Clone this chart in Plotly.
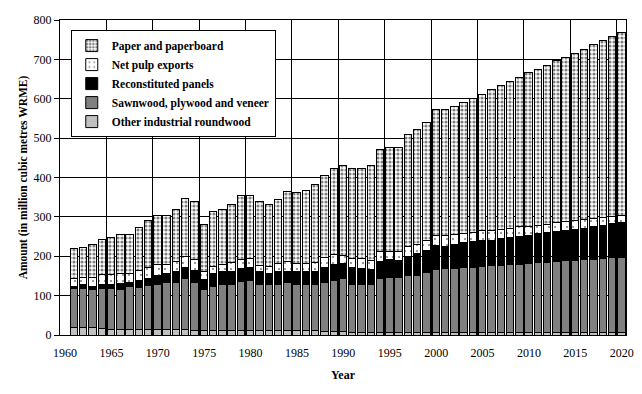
import plotly.graph_objects as go

years = list(range(1961, 2021))
year_tick_labels = ["1960", "1965", "1970", "1975", "1980", "1985", "1990",
                    "1995", "2000", "2005", "2010", "2015", "2020"]

other_industrial = [19.5, 19.5, 19.5, 17, 14.5, 14.5, 14.5, 14.5, 14.5, 14.5,
                    14.5, 14.5, 14.5, 11, 11, 11, 11, 11, 11, 11,
                    11, 11, 11, 11, 11, 11, 11, 8.5, 8.5, 8.5,
                    7, 7, 7, 7, 7, 7, 7, 7, 7, 7,
                    7, 7, 7, 7, 7, 7, 7, 7, 7, 7,
                    7, 7, 7, 7, 7, 7, 7, 7, 7, 7]
sawnwood = [98.1, 98.1, 96.5, 101.4, 103.9, 101.5, 108.2, 106.5, 110.5, 114.5,
            120, 120, 128.5, 121.8, 105, 111.7, 116, 116, 124, 127,
            116, 116, 116, 121.8, 116, 116, 116, 124.3, 131.1, 134.5,
            122.4, 122.4, 122.4, 136, 139.4, 139.4, 145, 145, 151, 159.7,
            162.2, 162.2, 164.7, 164.7, 166.4, 169, 169, 172.4, 172.4, 174.9,
            177.4, 177.4, 179.1, 181.7, 181.7, 185, 185, 187.6, 190.1, 190.1]
reconstituted = [6.4, 9.4, 8, 10.6, 10.6, 15, 10.3, 18.6, 19, 23,
                 22, 27.9, 28.7, 32.2, 25, 32.3, 34, 34, 34, 34,
                 33.7, 29.5, 33.7, 29.6, 33.7, 33.7, 35.4, 38.2, 39.8, 39.7,
                 41.6, 39.8, 38.1, 43, 46.6, 44, 48.5, 55, 56, 61.7,
                 56.8, 61.8, 62.6, 65.2, 66, 65.1, 69.3, 68.5, 71.9, 71.9,
                 73.6, 76.2, 76.2, 77.8, 80.3, 78.7, 83, 82.9, 86.3, 87.9]
net_pulp = [20, 19, 22, 25, 25, 24, 22, 23.4, 28, 26.5,
            22, 23.6, 28.8, 27, 21, 18, 19, 23, 23, 22.6,
            17, 16.9, 21.2, 23.6, 21.2, 21.2, 21.2, 26, 26.2, 20.3,
            23.6, 25.4, 22.9, 25.5, 20, 22.6, 23.5, 24, 25.4, 25.4,
            27.8, 24.5, 23.7, 23.7, 25.4, 25.4, 23.7, 22.8, 23.7, 22.8,
            21.2, 21.1, 22.7, 21.1, 22.9, 23.7, 21.1, 21.1, 18.6, 19.6]
paper = [76, 76.5, 84, 89, 94, 100.5, 100.5, 110, 118, 125.5,
         125.5, 133, 146.5, 147, 119, 141, 139, 148.5, 163, 160.4,
         160.3, 158.6, 162.1, 178, 179.1, 186.1, 198.4, 208, 217.4, 228,
         229.4, 229.4, 240.6, 258.5, 263.5, 263.5, 285.5, 291, 301.2, 319,
         319, 324.1, 333.4, 340.1, 346.9, 357.9, 365.5, 374, 379.8, 389.2,
         395.9, 403.6, 411.3, 418, 423.8, 431.5, 440.8, 450.1, 456.9, 463.6]

series = [
    ("Other industrial roundwood", other_industrial, dict(color="#c0c0c0")),
    ("Sawnwood, plywood and veneer", sawnwood, dict(color="#808080")),
    ("Reconstituted panels", reconstituted, dict(color="#000000")),
    ("Net pulp exports", net_pulp,
     dict(color="#ffffff", pattern=dict(shape=".", fgcolor="#000000", bgcolor="#ffffff",
                                         size=6, solidity=0.1, fillmode="overlay"))),
    ("Paper and paperboard", paper,
     dict(color="#ffffff", pattern=dict(shape=".", fgcolor="#000000", bgcolor="#ffffff",
                                         size=4, solidity=0.5, fillmode="overlay"))),
]

font_family = "Liberation Serif"

fig = go.Figure()
for name, vals, mk in series:
    marker = dict(mk)
    marker["line"] = dict(color="#000000", width=1)
    fig.add_trace(go.Bar(x=years, y=vals, name=name, marker=marker))

# gridlines sit on category boundaries every 5 years; labels are shifted to the category centres
tick_positions = [int(lbl) - 0.5 for lbl in year_tick_labels]

# the page body has an 8px margin, so the figure is 8px smaller than the window
fig.update_layout(
    width=634, height=386,
    barmode="stack", bargap=0.2,
    margin=dict(l=52, r=16, t=12, b=59, autoexpand=False),
    paper_bgcolor="white", plot_bgcolor="white",
    font=dict(family=font_family, size=12, color="black"),
    legend=dict(
        x=0.019, y=0.968, xanchor="left", yanchor="top",
        traceorder="reversed",
        bgcolor="white", bordercolor="black", borderwidth=1,
        font=dict(family=font_family, size=11.5, color="black", weight="bold"),
        itemwidth=30, tracegroupgap=0,
    ),
    showlegend=True,
)

fig.update_xaxes(
    range=[1959.5, 2020.5],
    tickmode="array", tickvals=tick_positions, ticktext=year_tick_labels,
    ticklabelshift=5, ticklabelstandoff=7,
    ticks="",
    showgrid=True, gridcolor="black", gridwidth=1,
    showline=True, linecolor="black", linewidth=1, mirror=True,
    title=dict(text="<b>Year</b>", font=dict(family=font_family, size=12), standoff=11),
    zeroline=False, automargin=False,
)
fig.update_yaxes(
    range=[0, 800],
    tick0=0, dtick=100, ticks="outside", ticklen=5, tickcolor="black",
    showgrid=True, gridcolor="black", gridwidth=1,
    showline=True, linecolor="black", linewidth=1, mirror=True,
    title=dict(text="<b>Amount (in million cubic metres WRME)</b>",
               font=dict(family=font_family, size=11.5), standoff=3),
    zeroline=False, automargin=False,
)

fig.write_html("out.html")
